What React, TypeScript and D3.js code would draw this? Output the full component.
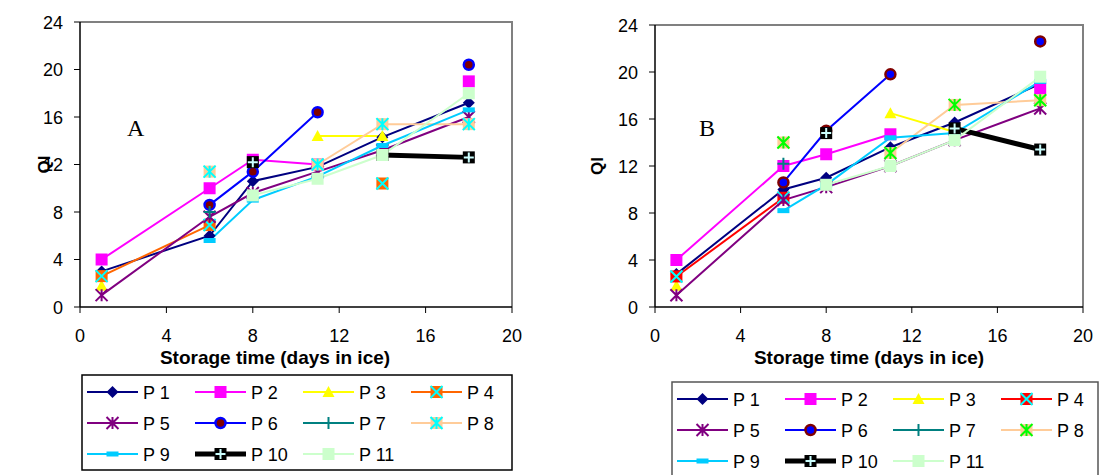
import React from "react";
import * as d3 from "d3";

const days = [1, 6, 8, 11, 14, 18];
const seriesNames = ["P 1", "P 2", "P 3", "P 4", "P 5", "P 6", "P 7", "P 8", "P 9", "P 10", "P 11"];
const xTicks = [0, 4, 8, 12, 16, 20];
const yTicks = [0, 4, 8, 12, 16, 20, 24];

type V = number | null;

const panelA: V[][] = [
  [3.0, 6.0, 10.6, 11.8, 14.3, 17.2],
  [4.0, 10.0, 12.4, 12.0, null, 19.0],
  [1.8, null, null, 14.4, 14.4, null],
  [2.6, 6.9, null, null, 10.4, null],
  [1.0, 7.6, 9.6, 11.4, 13.2, 16.0],
  [null, 8.6, 11.4, 16.4, null, 20.4],
  [null, 8.0, null, null, null, null],
  [null, 11.4, null, 12.0, 15.4, 15.4],
  [null, 5.6, 9.0, 11.0, 13.6, 16.6],
  [null, null, 12.2, null, 12.8, 12.6],
  [null, null, 9.4, 10.8, 12.8, 18.0],
];

const panelB: V[][] = [
  [2.8, 10.0, 11.0, 13.6, 15.7, 19.0],
  [4.0, 12.0, 13.0, 14.7, null, 18.6],
  [1.8, null, null, 16.5, 14.9, null],
  [2.6, 9.3, null, null, null, null],
  [1.0, 9.1, 10.2, 12.0, 14.2, 16.9],
  [null, 10.6, 15.0, 19.8, null, 22.6],
  [null, 12.2, null, null, null, null],
  [null, 14.0, null, 13.1, 17.2, 17.6],
  [null, 8.2, 10.4, 14.4, 14.8, 19.2],
  [null, null, 14.8, null, 15.2, 13.4],
  [null, null, 10.4, 12.0, 14.2, 19.6],
];

type Style = { line: string; width: number; marker: string; fill: string; stroke: string };

const stylesA: Style[] = [
  { line: "#000080", width: 2, marker: "diamond", fill: "#000080", stroke: "#000080" },
  { line: "#FF00FF", width: 2, marker: "square", fill: "#FF00FF", stroke: "#FF00FF" },
  { line: "#FFFF00", width: 2, marker: "triangle", fill: "#FFFF00", stroke: "#FFFF00" },
  { line: "#FF6600", width: 2, marker: "sqx", fill: "#FF6600", stroke: "#00FFFF" },
  { line: "#800080", width: 2, marker: "star", fill: "none", stroke: "#800080" },
  { line: "#0000FF", width: 2, marker: "circle", fill: "#800000", stroke: "#0000FF" },
  { line: "#008080", width: 2, marker: "plus", fill: "none", stroke: "#008080" },
  { line: "#FFCC99", width: 2, marker: "sqstar", fill: "#FFCC99", stroke: "#00FFFF" },
  { line: "#00CCFF", width: 2, marker: "dash", fill: "#00CCFF", stroke: "#00CCFF" },
  { line: "#000000", width: 5, marker: "sqplus", fill: "#000000", stroke: "#CCFFFF" },
  { line: "#CCFFCC", width: 2, marker: "square", fill: "#CCFFCC", stroke: "#CCFFCC" },
];

const stylesB: Style[] = stylesA.map((s, i) => {
  if (i === 3) return { ...s, line: "#FF0000", fill: "#FF0000" };
  if (i === 5) return { ...s, fill: "#0000FF", stroke: "#800000" };
  if (i === 7) return { ...s, stroke: "#00FF00" };
  return s;
});

const font = "Arial, 'Liberation Sans', sans-serif";

function Marker({ x, y, s }: { x: number; y: number; s: Style }) {
  const r = 6;
  switch (s.marker) {
    case "diamond":
      return <path d={`M${x},${y - r}L${x + r},${y}L${x},${y + r}L${x - r},${y}Z`} fill={s.fill} />;
    case "square":
      return <rect x={x - r} y={y - r} width={2 * r} height={2 * r} fill={s.fill} />;
    case "triangle":
      return <path d={`M${x},${y - r}L${x + r},${y + r - 1}L${x - r},${y + r - 1}Z`} fill={s.fill} />;
    case "sqx":
      return (
        <g>
          <rect x={x - r} y={y - r} width={2 * r} height={2 * r} fill={s.fill} />
          <path d={`M${x - r},${y - r}L${x + r},${y + r}M${x + r},${y - r}L${x - r},${y + r}`} stroke={s.stroke} strokeWidth={2} />
        </g>
      );
    case "star":
      return (
        <path
          d={`M${x - r},${y - r}L${x + r},${y + r}M${x + r},${y - r}L${x - r},${y + r}M${x},${y - r}L${x},${y + r}`}
          stroke={s.stroke}
          strokeWidth={2}
          fill="none"
        />
      );
    case "circle":
      return <circle cx={x} cy={y} r={r - 1} fill={s.fill} stroke={s.stroke} strokeWidth={2.5} />;
    case "plus":
      return <path d={`M${x - r},${y}L${x + r},${y}M${x},${y - r}L${x},${y + r}`} stroke={s.stroke} strokeWidth={2} />;
    case "sqstar":
      return (
        <g>
          <rect x={x - r} y={y - r} width={2 * r} height={2 * r} fill={s.fill} />
          <path
            d={`M${x - r},${y - r}L${x + r},${y + r}M${x + r},${y - r}L${x - r},${y + r}M${x},${y - r}L${x},${y + r}`}
            stroke={s.stroke}
            strokeWidth={2}
          />
        </g>
      );
    case "dash":
      return <rect x={x - r} y={y - 2.5} width={2 * r} height={5} fill={s.fill} />;
    case "sqplus":
      return (
        <g>
          <rect x={x - r} y={y - r} width={2 * r} height={2 * r} fill={s.fill} />
          <path d={`M${x - r + 1},${y}L${x + r - 1},${y}M${x},${y - r + 1}L${x},${y + r - 1}`} stroke={s.stroke} strokeWidth={2} />
        </g>
      );
  }
  return null;
}

type PanelProps = {
  data: V[][];
  styles: Style[];
  left: number;
  right: number;
  top: number;
  bottom: number;
  letter: string;
  letterX: number;
  qiX: number;
  titleX: number;
  legend: { x: number; y: number; w: number; h: number; stroke: string };
};

function Panel(p: PanelProps) {
  const x = d3.scaleLinear().domain([0, 20]).range([p.left, p.right]);
  const y = d3.scaleLinear().domain([0, 24]).range([p.bottom, p.top]);
  const line = d3
    .line<V>()
    .defined((v) => v !== null)
    .x((_, i) => x(days[i]))
    .y((v) => y(v as number));
  const colW = 108;
  const rowH = 31;
  return (
    <g>
      <path d={`M${p.left},${p.top}H${p.right}V${p.bottom}`} fill="none" stroke="#808080" strokeWidth={2} />
      <line x1={p.left} x2={p.left} y1={p.top} y2={p.bottom} stroke="#000" strokeWidth={1.5} />
      <line x1={p.left} x2={p.right} y1={p.bottom} y2={p.bottom} stroke="#000" strokeWidth={1.5} />
      {yTicks.map((t) => (
        <g key={"y" + t}>
          <line x1={p.left - 6} x2={p.left} y1={y(t)} y2={y(t)} stroke="#000" />
          <text x={p.left - 17} y={y(t) + 6.5} textAnchor="end" fontSize={18} fontFamily={font}>
            {t}
          </text>
        </g>
      ))}
      {xTicks.map((t) => (
        <g key={"x" + t}>
          <line x1={x(t)} x2={x(t)} y1={p.bottom} y2={p.bottom + 6} stroke="#000" />
          <text x={x(t)} y={p.bottom + 35} textAnchor="middle" fontSize={18} fontFamily={font}>
            {t}
          </text>
        </g>
      ))}
      <text x={p.titleX} y={p.bottom + 57} textAnchor="middle" fontSize={19} fontWeight="bold" fontFamily={font}>
        Storage time (days in ice)
      </text>
      <text
        transform={`translate(${p.qiX},${(p.top + p.bottom) / 2}) rotate(-90)`}
        textAnchor="middle"
        fontSize={17}
        fontWeight="bold"
        fontFamily={font}
      >
        QI
      </text>
      <text x={p.letterX} y={136} fontSize={24} fontFamily="'Liberation Serif', 'Times New Roman', serif">
        {p.letter}
      </text>
      {p.data.map((d, i) => (
        <path key={"l" + i} d={line(d) || ""} fill="none" stroke={p.styles[i].line} strokeWidth={p.styles[i].width} />
      ))}
      {p.data.map((d, i) => (
        <g key={"m" + i}>
          {d.map((v, j) => (v === null ? null : <Marker key={j} x={x(days[j])} y={y(v)} s={p.styles[i]} />))}
        </g>
      ))}
      <rect x={p.legend.x} y={p.legend.y} width={p.legend.w} height={p.legend.h} fill="#fff" stroke={p.legend.stroke} strokeWidth={1.5} />
      {seriesNames.map((n, i) => {
        const col = i % 4;
        const row = Math.floor(i / 4);
        const lx = p.legend.x + 5 + col * colW;
        const ly = p.legend.y + 17 + row * rowH;
        const s = p.styles[i];
        return (
          <g key={"lg" + i}>
            <line x1={lx} x2={lx + 51} y1={ly} y2={ly} stroke={s.line} strokeWidth={s.width} />
            <Marker x={lx + 25.5} y={ly} s={s} />
            <text x={lx + 56} y={ly + 6.5} fontSize={18} fontFamily={font}>
              {n}
            </text>
          </g>
        );
      })}
    </g>
  );
}

export default function App() {
  return (
    <svg width={1099} height={475} style={{ position: "absolute", left: 0, top: 0, background: "#fff" }}>
      <rect width={1099} height={475} fill="#fff" />
      <Panel
        data={panelA}
        styles={stylesA}
        left={80}
        right={512}
        top={22}
        bottom={307}
        letter="A"
        letterX={127}
        qiX={50}
        titleX={275}
        legend={{ x: 82, y: 375, w: 430, h: 95, stroke: "#000" }}
      />
      <Panel
        data={panelB}
        styles={stylesB}
        left={655}
        right={1083}
        top={25}
        bottom={307}
        letter="B"
        letterX={699}
        qiX={603}
        titleX={869}
        legend={{ x: 672, y: 382, w: 426, h: 100, stroke: "#555" }}
      />
    </svg>
  );
}
